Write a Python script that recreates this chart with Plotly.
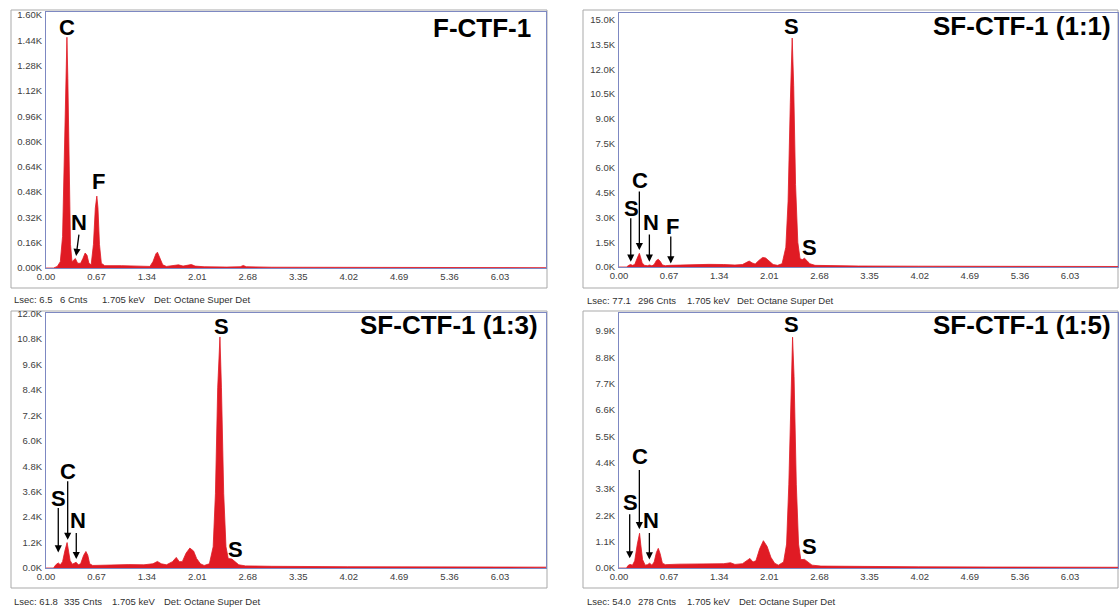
import plotly.graph_objects as go

W, H = 1119, 608
RED = "#e01b24"
AXLINE = "#7d88c2"
BOX = "#a9a9a9"

# ---------------- data (energy keV, counts in K) ----------------
f_ctf_x = [0.00, 0.10, 0.15, 0.19, 0.22, 0.245, 0.265, 0.278, 0.29, 0.305, 0.325, 0.345, 0.37, 0.39,
           0.42, 0.46, 0.49, 0.52, 0.545, 0.57, 0.60, 0.63, 0.655, 0.675, 0.69, 0.71, 0.735, 0.78,
           1.00, 1.20, 1.38, 1.42, 1.46, 1.48, 1.51, 1.55, 1.60, 1.70, 1.76, 1.82, 1.88, 1.93, 1.98,
           2.10, 2.40, 2.58, 2.62, 2.66, 3.00, 4.00, 5.00, 6.64]
f_ctf_y = [0.0, 0.0, 0.01, 0.04, 0.2, 0.7, 1.25, 1.46, 1.2, 0.6, 0.15, 0.04, 0.05, 0.06,
           0.03, 0.03, 0.06, 0.095, 0.08, 0.03, 0.02, 0.15, 0.38, 0.455, 0.38, 0.15, 0.03, 0.015,
           0.015, 0.012, 0.01, 0.04, 0.09, 0.1, 0.07, 0.02, 0.01, 0.015, 0.02, 0.012, 0.018, 0.022, 0.012,
           0.008, 0.006, 0.008, 0.016, 0.008, 0.005, 0.004, 0.003, 0.002]

sf11_x = [0.00, 0.10, 0.13, 0.155, 0.18, 0.21, 0.24, 0.262, 0.272, 0.285, 0.31, 0.34, 0.38, 0.41,
          0.44, 0.47, 0.50, 0.525, 0.55, 0.58, 0.62, 0.68, 0.80, 1.00, 1.20, 1.40, 1.55, 1.65, 1.70,
          1.74, 1.78, 1.82, 1.87, 1.92, 1.96, 2.01, 2.06, 2.12, 2.18, 2.23, 2.26, 2.29, 2.315, 2.335,
          2.36, 2.39, 2.42, 2.45, 2.48, 2.51, 2.55, 2.62, 2.80, 3.20, 4.00, 5.00, 6.67]
sf11_y = [0.0, 0.0, 0.1, 0.15, 0.1, 0.15, 0.5, 0.8, 0.83, 0.65, 0.25, 0.1, 0.08, 0.12,
          0.07, 0.15, 0.4, 0.47, 0.35, 0.12, 0.08, 0.1, 0.12, 0.15, 0.16, 0.15, 0.12, 0.15, 0.28,
          0.36, 0.25, 0.18, 0.4, 0.58, 0.55, 0.35, 0.15, 0.1, 0.2, 1.2, 4.0, 10.0, 13.9, 11.0,
          5.0, 1.5, 0.5, 0.45, 0.53, 0.4, 0.2, 0.1, 0.08, 0.06, 0.05, 0.04, 0.03]

sf13_x = [0.00, 0.10, 0.13, 0.163, 0.19, 0.22, 0.25, 0.27, 0.28, 0.295, 0.32, 0.35, 0.38, 0.40,
          0.43, 0.46, 0.50, 0.53, 0.555, 0.58, 0.62, 0.70, 0.90, 1.10, 1.30, 1.42, 1.48, 1.53, 1.60,
          1.68, 1.73, 1.77, 1.81, 1.86, 1.91, 1.96, 2.00, 2.05, 2.10, 2.17, 2.22, 2.25, 2.28, 2.31,
          2.33, 2.36, 2.39, 2.42, 2.47, 2.51, 2.56, 2.65, 3.00, 4.00, 5.00, 6.64]
sf13_y = [0.0, 0.0, 0.15, 0.24, 0.15, 0.3, 0.8, 1.15, 1.2, 0.9, 0.35, 0.18, 0.22, 0.27,
          0.15, 0.2, 0.6, 0.78, 0.6, 0.2, 0.12, 0.13, 0.15, 0.16, 0.15, 0.2, 0.31, 0.2, 0.15,
          0.3, 0.5, 0.3, 0.3, 0.7, 0.94, 0.8, 0.45, 0.2, 0.12, 0.2, 1.0, 3.5, 8.5, 10.9,
          8.5, 3.5, 1.0, 0.45, 0.42, 0.3, 0.15, 0.1, 0.08, 0.06, 0.05, 0.04]

sf15_x = [0.00, 0.10, 0.12, 0.147, 0.18, 0.21, 0.245, 0.265, 0.275, 0.29, 0.315, 0.35, 0.38, 0.41,
          0.44, 0.47, 0.50, 0.525, 0.55, 0.58, 0.62, 0.80, 1.00, 1.20, 1.40, 1.49, 1.55, 1.65, 1.70,
          1.75, 1.79, 1.83, 1.88, 1.93, 1.98, 2.03, 2.08, 2.13, 2.20, 2.24, 2.27, 2.30, 2.32, 2.34,
          2.37, 2.40, 2.43, 2.48, 2.52, 2.58, 2.70, 3.20, 4.00, 5.00, 6.67]
sf15_y = [0.0, 0.0, 0.1, 0.15, 0.12, 0.3, 1.0, 1.4, 1.45, 1.0, 0.35, 0.12, 0.14, 0.2,
          0.12, 0.25, 0.65, 0.82, 0.6, 0.2, 0.14, 0.16, 0.17, 0.18, 0.18, 0.22, 0.15, 0.18, 0.3,
          0.4, 0.25, 0.3, 0.8, 1.14, 0.9, 0.45, 0.2, 0.12, 0.25, 1.0, 3.5, 8.0, 9.64, 8.0,
          3.5, 1.0, 0.35, 0.36, 0.25, 0.12, 0.08, 0.06, 0.05, 0.04, 0.03]

x_tickvals = [0.00, 0.67, 1.34, 2.01, 2.68, 3.35, 4.02, 4.69, 5.36, 6.03]
x_ticktext = ["0.00", "0.67", "1.34", "2.01", "2.68", "3.35", "4.02", "4.69", "5.36", "6.03"]

y1_ticks = [0.0, 0.16, 0.32, 0.48, 0.64, 0.80, 0.96, 1.12, 1.28, 1.44, 1.60]
y1_text = ["0.00K", "0.16K", "0.32K", "0.48K", "0.64K", "0.80K", "0.96K", "1.12K", "1.28K", "1.44K", "1.60K"]
y2_ticks = [0.0, 1.5, 3.0, 4.5, 6.0, 7.5, 9.0, 10.5, 12.0, 13.5, 15.0]
y2_text = ["0.0K", "1.5K", "3.0K", "4.5K", "6.0K", "7.5K", "9.0K", "10.5K", "12.0K", "13.5K", "15.0K"]
y3_ticks = [0.0, 1.2, 2.4, 3.6, 4.8, 6.0, 7.2, 8.4, 9.6, 10.8, 12.0]
y3_text = ["0.0K", "1.2K", "2.4K", "3.6K", "4.8K", "6.0K", "7.2K", "8.4K", "9.6K", "10.8K", "12.0K"]
y4_ticks = [0.0, 1.1, 2.2, 3.3, 4.4, 5.5, 6.6, 7.7, 8.8, 9.9]
y4_text = ["0.0K", "1.1K", "2.2K", "3.3K", "4.4K", "5.5K", "6.6K", "7.7K", "8.8K", "9.9K"]

titles = ["F-CTF-1", "SF-CTF-1 (1:1)", "SF-CTF-1 (1:3)", "SF-CTF-1 (1:5)"]
footers = [
    ["Lsec: 6.5", "6 Cnts", "1.705 keV", "Det: Octane Super Det"],
    ["Lsec: 77.1", "296 Cnts", "1.705 keV", "Det: Octane Super Det"],
    ["Lsec: 61.8", "335 Cnts", "1.705 keV", "Det: Octane Super Det"],
    ["Lsec: 54.0", "278 Cnts", "1.705 keV", "Det: Octane Super Det"],
]

# element labels: (panel, text, x keV, y K)
labels = [
    (1, "C", 0.278, 1.524), (1, "N", 0.437, 0.291), (1, "F", 0.70, 0.55),
    (2, "S", 2.312, 14.59), (2, "S", 2.548, 1.20), (2, "S", 0.165, 3.56),
    (2, "C", 0.28, 5.28), (2, "N", 0.424, 2.69), (2, "F", 0.719, 2.45),
    (3, "S", 2.33, 11.41), (3, "S", 2.516, 0.895), (3, "S", 0.172, 3.30),
    (3, "C", 0.292, 4.55), (3, "N", 0.42, 2.23),
    (4, "S", 2.312, 10.15), (4, "S", 2.548, 0.89), (4, "S", 0.147, 2.73),
    (4, "C", 0.281, 4.65), (4, "N", 0.424, 2.00),
]
# arrows: (panel, tail x, tail y, tip x, tip y)
arrows = [
    (1, 0.44, 0.221, 0.40, 0.076),
    (2, 0.157, 3.05, 0.157, 0.32), (2, 0.272, 4.68, 0.272, 1.03),
    (2, 0.406, 2.06, 0.406, 0.32), (2, 0.692, 1.94, 0.692, 0.22),
    (3, 0.163, 2.90, 0.163, 0.735), (3, 0.288, 4.16, 0.288, 1.33),
    (3, 0.402, 1.72, 0.402, 0.42),
    (4, 0.143, 2.31, 0.143, 0.405), (4, 0.272, 4.16, 0.272, 1.62),
    (4, 0.406, 1.52, 0.406, 0.36),
]

# ---------------- layout geometry (pixels) ----------------
def px(x):
    return x / W

def py(y):
    return 1 - y / H

panels = {
    1: dict(xd=(46, 546), yd=(12, 268), xr=6.64, yr=1.62, yt=(y1_ticks, y1_text)),
    2: dict(xd=(619, 1118), yd=(13, 267), xr=6.67, yr=15.42, yt=(y2_ticks, y2_text)),
    3: dict(xd=(46, 546), yd=(313, 568), xr=6.64, yr=12.03, yt=(y3_ticks, y3_text)),
    4: dict(xd=(619, 1118), yd=(313, 568), xr=6.67, yr=10.65, yt=(y4_ticks, y4_text)),
}
spectra = {1: (f_ctf_x, f_ctf_y), 2: (sf11_x, sf11_y), 3: (sf13_x, sf13_y), 4: (sf15_x, sf15_y)}

fig = go.Figure()
tick_font = dict(family="Liberation Sans Narrow, Liberation Sans, Arial", size=9.5, color="#404040")

for k, p in panels.items():
    sx = "" if k == 1 else str(k)
    xs, ys = spectra[k]
    fig.add_trace(go.Scatter(x=xs, y=ys, mode="lines", fill="tozeroy",
                             line=dict(color=RED, width=0.8), fillcolor=RED,
                             xaxis="x" + sx, yaxis="y" + sx, showlegend=False,
                             hoverinfo="skip"))
    fig.layout["xaxis" + sx] = dict(
        domain=[px(p["xd"][0]), px(p["xd"][1])], range=[0, p["xr"]],
        anchor="y" + sx, tickvals=x_tickvals, ticktext=x_ticktext, ticks="",
        showgrid=False, zeroline=False, showline=True, mirror=True, automargin=False,
        linecolor=AXLINE, linewidth=1, tickfont=tick_font, fixedrange=True)
    fig.layout["yaxis" + sx] = dict(
        domain=[py(p["yd"][1]), py(p["yd"][0])], range=[0, p["yr"]],
        anchor="x" + sx, tickvals=p["yt"][0], ticktext=p["yt"][1], ticks="",
        showgrid=False, zeroline=False, showline=True, mirror=True, automargin=False,
        linecolor=AXLINE, linewidth=1, tickfont=tick_font, fixedrange=True,
        ticklabelstandoff=1)

# outer grey boxes
for (x0, x1, y0, y1) in [(11, 547, 10, 288), (583, 1118, 10, 288), (11, 547, 311, 588), (583, 1118, 311, 588)]:
    fig.add_shape(type="rect", xref="paper", yref="paper", x0=px(x0), x1=px(x1),
                  y0=py(y1), y1=py(y0), line=dict(color=BOX, width=1), layer="below")

ann = []
lab_font = dict(family="Liberation Sans, Arial", size=22, color="black")
for (k, t, x, y) in labels:
    sx = "" if k == 1 else str(k)
    ann.append(dict(text="<b>%s</b>" % t, x=x, y=y, xref="x" + sx, yref="y" + sx,
                    showarrow=False, font=lab_font, xanchor="center", yanchor="middle"))
for (k, tx, ty, hx, hy) in arrows:
    sx = "" if k == 1 else str(k)
    ann.append(dict(text="", x=hx, y=hy, ax=tx, ay=ty, xref="x" + sx, yref="y" + sx,
                    axref="x" + sx, ayref="y" + sx, showarrow=True, arrowhead=2,
                    arrowsize=1.1, arrowwidth=1.3, arrowcolor="black", standoff=0,
                    startstandoff=0))

title_pos = [(533, 28), (1113, 26), (540, 325), (1113, 325)]
for t, (x, y) in zip(titles, title_pos):
    ann.append(dict(text="<b>%s</b>" % t, x=px(x), y=py(y), xref="paper", yref="paper",
                    showarrow=False, xanchor="right", yanchor="middle",
                    font=dict(family="Liberation Sans, Arial", size=26, color="black")))

foot_x = [(12, 58, 100, 152), (585, 636, 685, 735), (12, 62, 110, 162), (585, 636, 685, 737)]
foot_y = [299, 300, 601, 601]
foot_font = dict(family="Liberation Sans Narrow, Liberation Sans, Arial", size=9.5, color="#303030")
for f, xs, y in zip(footers, foot_x, foot_y):
    for t, x in zip(f, xs):
        ann.append(dict(text=t, x=px(x), y=py(y), xref="paper", yref="paper",
                        showarrow=False, xanchor="left", yanchor="middle", font=foot_font))

fig.update_layout(width=W, height=H, margin=dict(l=0, r=0, t=0, b=0, autoexpand=False),
                  template="none",
                  paper_bgcolor="white", plot_bgcolor="white", annotations=ann,
                  showlegend=False)

fig.write_html("out.html", config={"displayModeBar": False},
               post_script="document.body.style.margin='0px';document.body.style.overflow='hidden';")
